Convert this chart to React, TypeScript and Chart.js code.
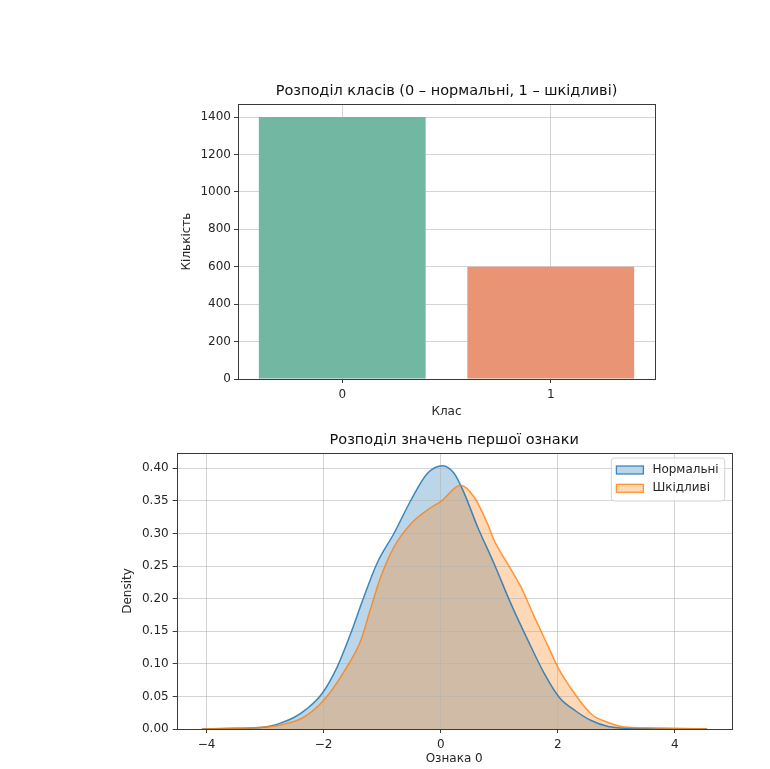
import React, { useEffect, useRef } from "react";
import { Chart, registerables } from "chart.js";

Chart.register(...registerables);

// ---------- data: class distribution ----------
const classCategories = ["0", "1"];
const classCounts = [1400, 600];
const classColors = ["#72b7a1", "#e99575"];
const countTicks = [0, 200, 400, 600, 800, 1000, 1200, 1400];

// ---------- data: density of first feature ----------
const featureTicks = [-4, -2, 0, 2, 4];
const densityTicks = [0, 0.05, 0.1, 0.15, 0.2, 0.25, 0.3, 0.35, 0.4];

const normalX = [-4.08, -3.5, -3.0, -2.74, -2.5, -2.3, -2.03, -1.77, -1.54, -1.34, -1.09, -0.8, -0.51, -0.23, 0.03, 0.23, 0.4, 0.63, 0.91, 1.2, 1.49, 1.77, 2.03, 2.3, 2.57, 2.86, 3.2, 3.8, 4.55];
const normalY = [0.0, 0.001, 0.003, 0.009, 0.018, 0.03, 0.054, 0.095, 0.146, 0.196, 0.254, 0.3, 0.351, 0.392, 0.404, 0.392, 0.362, 0.31, 0.254, 0.192, 0.136, 0.085, 0.048, 0.028, 0.013, 0.004, 0.001, 0.0, 0.0];

const maliciousX = [-4.08, -3.5, -3.0, -2.7, -2.34, -2.0, -1.66, -1.37, -1.2, -1.03, -0.8, -0.51, -0.23, 0.0, 0.34, 0.57, 0.8, 0.91, 1.14, 1.37, 1.6, 1.83, 2.0, 2.29, 2.57, 2.86, 3.14, 3.5, 4.0, 4.55];
const maliciousY = [0.0, 0.001, 0.003, 0.007, 0.018, 0.044, 0.087, 0.135, 0.184, 0.232, 0.279, 0.315, 0.336, 0.349, 0.374, 0.356, 0.315, 0.29, 0.254, 0.218, 0.172, 0.128, 0.095, 0.054, 0.023, 0.01, 0.003, 0.002, 0.001, 0.0];

const FONT = '"DejaVu Sans", sans-serif';
const TEXT = "#262626";
const TICK_SIZE = 12;
const TITLE_SIZE = 14.5;

const framePlugin = {
  id: "frame",
  afterDraw(chart: any) {
    const { ctx, chartArea: a } = chart;
    ctx.save();
    ctx.strokeStyle = "#3a3a3a";
    ctx.lineWidth = 1;
    ctx.strokeRect(
      Math.round(a.left) + 0.5,
      Math.round(a.top) + 0.5,
      Math.round(a.right - a.left),
      Math.round(a.bottom - a.top)
    );
    ctx.restore();
  },
};

const insideLegend = {
  id: "insideLegend",
  afterDraw(chart: any) {
    const { ctx, chartArea: a } = chart;
    const ds = chart.data.datasets;
    ctx.save();
    ctx.font = `${TICK_SIZE}px ${FONT}`;
    const textW = Math.max(...ds.map((d: any) => ctx.measureText(d.label).width));
    const w = 41 + textW + 6;
    const h = 43;
    const x = a.right - 7 - w;
    const y = a.top + 5;
    const r = 3;
    ctx.beginPath();
    ctx.moveTo(x + r, y);
    ctx.lineTo(x + w - r, y);
    ctx.quadraticCurveTo(x + w, y, x + w, y + r);
    ctx.lineTo(x + w, y + h - r);
    ctx.quadraticCurveTo(x + w, y + h, x + w - r, y + h);
    ctx.lineTo(x + r, y + h);
    ctx.quadraticCurveTo(x, y + h, x, y + h - r);
    ctx.lineTo(x, y + r);
    ctx.quadraticCurveTo(x, y, x + r, y);
    ctx.closePath();
    ctx.fillStyle = "rgba(255,255,255,0.8)";
    ctx.fill();
    ctx.strokeStyle = "#d4d4d4";
    ctx.lineWidth = 1;
    ctx.stroke();
    ds.forEach((d: any, i: number) => {
      const cy = y + 12 + i * 18.3;
      ctx.fillStyle = "#ffffff";
      ctx.fillRect(x + 5, cy - 4, 27, 8);
      ctx.fillStyle = d.backgroundColor;
      ctx.fillRect(x + 5, cy - 4, 27, 8);
      ctx.strokeStyle = d.borderColor;
      ctx.lineWidth = 1.3;
      ctx.strokeRect(x + 5, cy - 4, 27, 8);
      ctx.fillStyle = TEXT;
      ctx.textBaseline = "middle";
      ctx.textAlign = "left";
      ctx.fillText(d.label, x + 41, cy);
    });
    ctx.restore();
  },
};

const fmtMinus = (v: number) => (v < 0 ? "\u2212" + Math.abs(v) : String(v));

export default function App() {
  const topRef = useRef<HTMLCanvasElement>(null);
  const botRef = useRef<HTMLCanvasElement>(null);

  useEffect(() => {
    document.body.style.margin = "0";
    Chart.defaults.font.family = FONT;
    Chart.defaults.color = TEXT;

    const gridColor = "rgba(176,176,176,0.55)";

    const top = new Chart(topRef.current!, {
      type: "bar",
      data: {
        labels: classCategories,
        datasets: [
          {
            label: "Кількість",
            data: classCounts,
            backgroundColor: classColors,
            borderWidth: 0,
            barPercentage: 0.8,
            categoryPercentage: 1.0,
          },
        ],
      },
      options: {
        responsive: false,
        animation: false,
        layout: { padding: { left: 0, right: 25, top: 0, bottom: 0 } },
        plugins: {
          legend: { display: false },
          tooltip: { enabled: false },
          title: {
            display: true,
            fullSize: false,
            text: "Розподіл класів (0 – нормальні, 1 – шкідливі)",
            font: { size: TITLE_SIZE, weight: "normal", family: FONT },
            color: "#111",
            padding: { top: 22.8, bottom: 3.8 },
          },
        },
        scales: {
          x: {
            type: "category",
            offset: true,
            z: 1,
            afterFit: (s: any) => {
              s.height = 51;
            },
            grid: {
              offset: false,
              color: gridColor,
              lineWidth: 1,
              tickLength: 4,
              tickColor: "#3a3a3a",
            },
            border: { display: false },
            ticks: { font: { size: TICK_SIZE }, padding: 4.8, color: TEXT },
            title: {
              display: true,
              text: "Клас",
              font: { size: TICK_SIZE },
              color: TEXT,
              padding: { top: 0, bottom: 11.1 },
            },
          },
          y: {
            type: "linear",
            min: 0,
            max: 1470,
            z: 1,
            afterFit: (s: any) => {
              s.width = 98;
            },
            afterBuildTicks: (s: any) => {
              s.ticks = countTicks.map((v) => ({ value: v }));
            },
            grid: {
              color: gridColor,
              lineWidth: 1,
              tickLength: 4,
              tickColor: "#3a3a3a",
            },
            border: { display: false },
            ticks: { font: { size: TICK_SIZE }, padding: 3, color: TEXT, callback: (v: any) => String(v) },
            title: {
              display: true,
              text: "Кількість",
              font: { size: TICK_SIZE },
              color: TEXT,
              padding: { top: 39.5, bottom: 0 },
            },
          },
        },
      },
      plugins: [framePlugin],
    });

    const bottom = new Chart(botRef.current!, {
      type: "line",
      data: {
        datasets: [
          {
            label: "Нормальні",
            data: normalX.map((x, i) => ({ x, y: normalY[i] })),
            borderColor: "rgba(31,119,180,0.85)",
            backgroundColor: "rgba(31,119,180,0.3)",
            borderWidth: 1.5,
            fill: "origin",
            pointRadius: 0,
            cubicInterpolationMode: "monotone",
            order: 2,
          },
          {
            label: "Шкідливі",
            data: maliciousX.map((x, i) => ({ x, y: maliciousY[i] })),
            borderColor: "rgba(255,127,14,0.8)",
            backgroundColor: "rgba(255,127,14,0.3)",
            borderWidth: 1.5,
            fill: "origin",
            pointRadius: 0,
            cubicInterpolationMode: "monotone",
            order: 1,
          },
        ],
      },
      options: {
        responsive: false,
        animation: false,
        layout: { padding: { left: 0, right: 28.3, top: 0, bottom: 0 } },
        plugins: {
          legend: { display: false },
          tooltip: { enabled: false },
          filler: { drawTime: "beforeDraw" } as any,
          title: {
            display: true,
            fullSize: false,
            text: "Розподіл значень першої ознаки",
            font: { size: TITLE_SIZE, weight: "normal", family: FONT },
            color: "#111",
            padding: { top: 6.8, bottom: 3.8 },
          },
        },
        scales: {
          x: {
            type: "linear",
            min: -4.51,
            max: 4.97,
            afterFit: (s: any) => {
              s.height = 40;
            },
            afterBuildTicks: (s: any) => {
              s.ticks = featureTicks.map((v) => ({ value: v }));
            },
            grid: {
              color: gridColor,
              lineWidth: 1,
              tickLength: 4,
              tickColor: "#3a3a3a",
            },
            border: { display: false },
            ticks: { font: { size: TICK_SIZE }, padding: 4.8, color: TEXT, callback: (v: any) => fmtMinus(Number(v)) },
            title: {
              display: true,
              text: "Ознака 0",
              font: { size: TICK_SIZE },
              color: TEXT,
              padding: { top: 0, bottom: 2.8 },
            },
          },
          y: {
            type: "linear",
            min: 0,
            max: 0.4235,
            afterFit: (s: any) => {
              s.width = 86.7;
            },
            afterBuildTicks: (s: any) => {
              s.ticks = densityTicks.map((v) => ({ value: v }));
            },
            grid: {
              color: gridColor,
              lineWidth: 1,
              tickLength: 4,
              tickColor: "#3a3a3a",
            },
            border: { display: false },
            ticks: { font: { size: TICK_SIZE }, padding: 4, color: TEXT, callback: (v: any) => Number(v).toFixed(2) },
            title: {
              display: true,
              text: "Density",
              font: { size: TICK_SIZE },
              color: TEXT,
              padding: { top: 31.1, bottom: 0 },
            },
          },
        },
      },
      plugins: [framePlugin, insideLegend],
    });

    return () => {
      top.destroy();
      bottom.destroy();
    };
  }, []);

  return (
    <div style={{ position: "relative", width: 760, height: 769, overflow: "visible" }}>
      <div style={{ position: "absolute", left: 140, top: 60, width: 540, height: 370 }}>
        <canvas ref={topRef} width={540} height={370} style={{ display: "block" }} />
      </div>
      <div style={{ position: "absolute", left: 90, top: 425, width: 670, height: 344 }}>
        <canvas ref={botRef} width={670} height={344} style={{ display: "block" }} />
      </div>
    </div>
  );
}
